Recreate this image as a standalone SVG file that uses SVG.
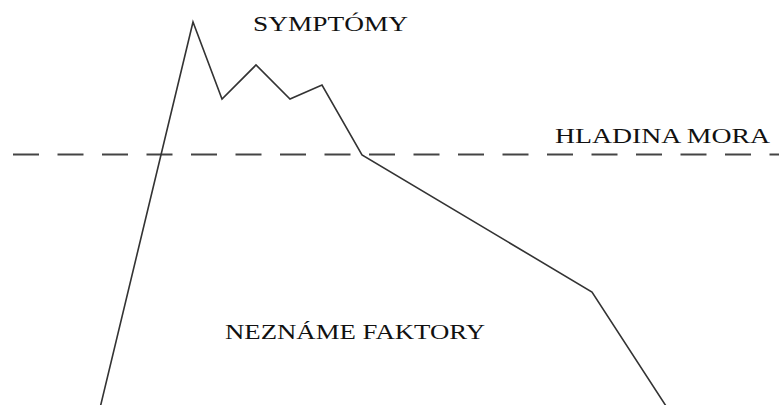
<svg xmlns="http://www.w3.org/2000/svg" width="779" height="405" viewBox="0 0 779 405">
<style>
.lbl{font-family:"Liberation Serif","Times New Roman",serif;font-size:22px;fill:#111}
.prof{fill:none;stroke:#333;stroke-width:1.6;stroke-linejoin:miter}
.sea{fill:none;stroke:#444;stroke-width:2;stroke-dasharray:26 18.5}
</style>
<rect width="779" height="405" fill="#fff"/>
<line class="sea" x1="13" y1="154.5" x2="779" y2="154.5"/>
<polyline class="prof" points="100.5,406 193,22 222,99 256,65 290,99 322,85 362,155 592,292 666,406"/>
<text class="lbl" x="253" y="31" textLength="155" lengthAdjust="spacingAndGlyphs">SYMPTÓMY</text>
<text class="lbl" x="555" y="143" textLength="215" lengthAdjust="spacingAndGlyphs">HLADINA MORA</text>
<text class="lbl" x="225" y="339" textLength="260" lengthAdjust="spacingAndGlyphs">NEZNÁME FAKTORY</text>
</svg>
